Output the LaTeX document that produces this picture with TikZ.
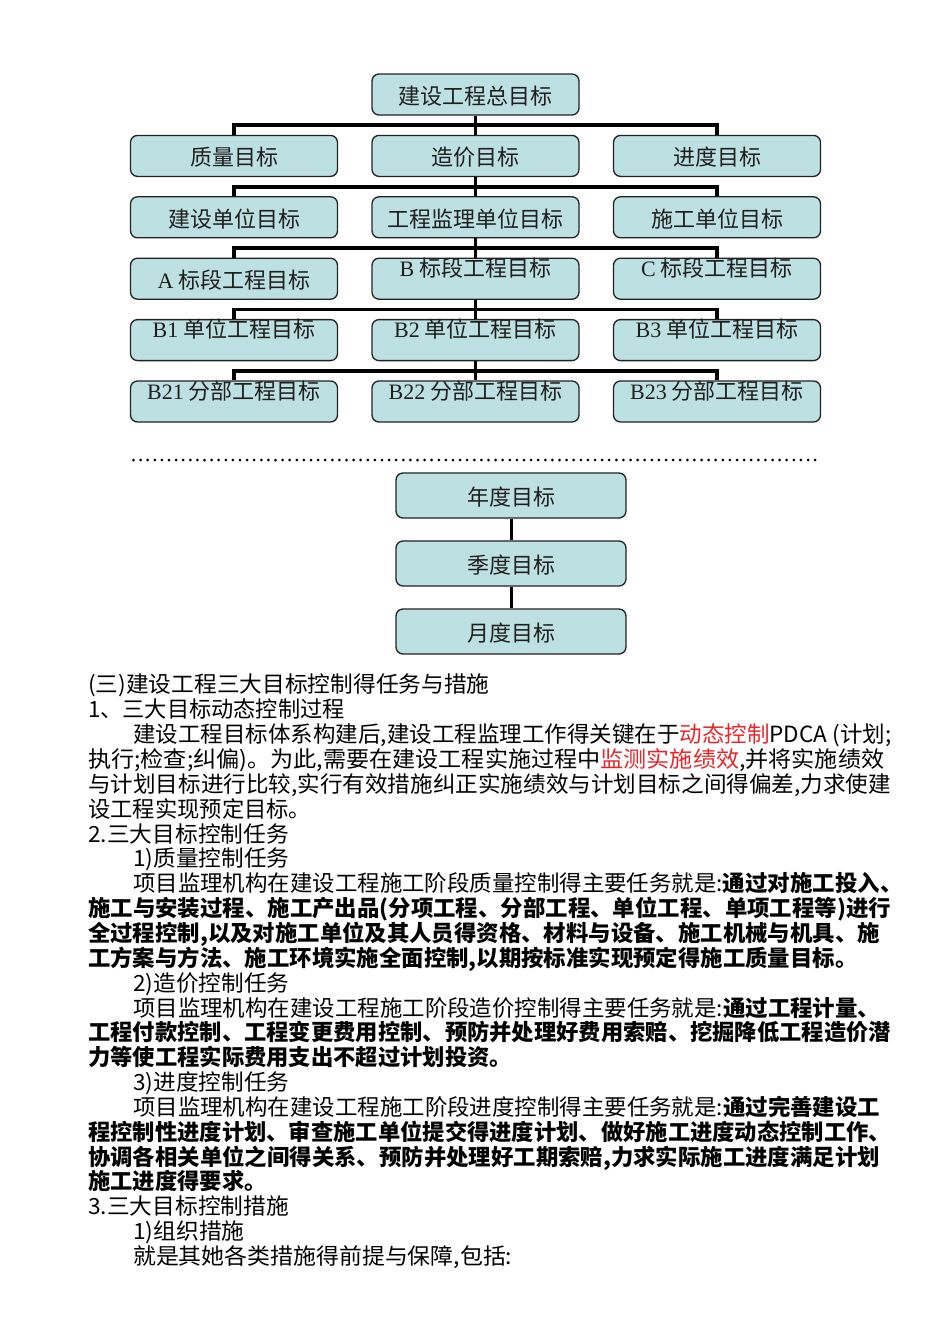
\documentclass[tikz,border=0pt]{standalone}
\usepackage{fontspec}
\usepackage{graphicx}
\setmainfont{Liberation Serif}
\newfontfamily\cjk{Noto Sans CJK SC}
\newfontfamily\lat{Liberation Serif}
\usetikzlibrary{calc}
\definecolor{boxfill}{HTML}{BDE0E3}
\definecolor{boxline}{HTML}{222222}
\definecolor{redtxt}{HTML}{E8262A}
\newsavebox\lnbox
\newlength\lnlen
\newcommand\fitline[2]{\sbox\lnbox{#2}\setlength\lnlen{\wd\lnbox}\pgfmathsetmacro\lnsx{#1*22.3/\lnlen}\scalebox{\lnsx}[1]{\usebox\lnbox}}
\tikzset{
  goal/.style={draw=boxline, fill=boxfill, line width=1.3pt, rounded corners=7pt,
    minimum width=207pt, minimum height=41pt, inner sep=0pt,
    font=\cjk\fontsize{22}{26}\selectfont, text=black!88, text height=22pt, text depth=2.5pt},
  goaltop/.style={goal, text height=18pt, text depth=22.5pt},
  goalbig/.style={goal, minimum width=230pt, minimum height=45pt, text height=23pt},
  conn/.style={line width=3.8pt, draw=black},
  chain/.style={line width=3pt, draw=black},
  dotline/.style={line width=3pt, draw=black, dash pattern=on 0pt off 7.1pt, line cap=round},
  body/.style={anchor=west, inner sep=0pt, font=\cjk\fontsize{22.3}{26}\selectfont,
    text height=19.6pt, text depth=2.7pt}
}
\begin{document}
\begin{tikzpicture}[x=1pt,y=-1pt]
\useasboundingbox (0,0) rectangle (950,1344);
\fill[white] (0,0) rectangle (950,1344);

% tree of goals
\node[goal] (root) at (475.5,94.5) {建设工程总目标};
\node[goal] (q) at (234,155.9) {质量目标};
\node[goal] (z) at (475.5,155.9) {造价目标};
\node[goal] (j) at (717,155.9) {进度目标};
\node[goal] (u1) at (234,217.3) {建设单位目标};
\node[goal] (u2) at (475.5,217.3) {工程监理单位目标};
\node[goal] (u3) at (717,217.3) {施工单位目标};
\node[goal] (a) at (234,278.7) {{\lat A} 标段工程目标};
\node[goaltop] (b) at (475.5,278.7) {{\lat B} 标段工程目标};
\node[goaltop] (c) at (717,278.7) {{\lat C} 标段工程目标};
\node[goaltop] (b1) at (234,340.1) {{\lat B1} 单位工程目标};
\node[goaltop] (b2) at (475.5,340.1) {{\lat B2} 单位工程目标};
\node[goaltop] (b3) at (717,340.1) {{\lat B3} 单位工程目标};
\node[goaltop] (b21) at (234,401.5) {{\lat B21} 分部工程目标};
\node[goaltop] (b22) at (475.5,401.5) {{\lat B22} 分部工程目标};
\node[goaltop] (b23) at (717,401.5) {{\lat B23} 分部工程目标};

\draw[conn] (root.south) -- (z.north);
\draw[conn] (q.north) |- ($(root.south)!0.5!(z.north)$) -| (j.north);
\draw[conn] (z.south) -- (u2.north);
\draw[conn] (u1.north) |- ($(z.south)!0.5!(u2.north)$) -| (u3.north);
\draw[conn] (u2.south) -- (b.north);
\draw[conn] (a.north) |- ($(u2.south)!0.5!(b.north)$) -| (c.north);
\draw[conn] (b.south) -- (b2.north);
\draw[conn] (b1.north) |- ($(b.south)!0.5!(b2.north)$) -| (b3.north);
\draw[conn] (b2.south) -- (b22.north);
\draw[conn] (b21.north) |- ($(b2.south)!0.5!(b22.north)$) -| (b23.north);

% dotted separator
\coordinate (dl1) at (133.5,460);
\coordinate (dl2) at (821,460);
\draw[dotline] (dl1) -- (dl2);

% time goals
\node[goalbig] (y1) at (511,495.5) {年度目标};
\node[goalbig] (y2) at (511,563.5) {季度目标};
\node[goalbig] (y3) at (511,631.5) {月度目标};
\draw[chain] (y1.south) -- (y2.north);
\draw[chain] (y2.south) -- (y3.north);

% body text
\node[body] (t0) at (88,684.5) {\fitline{18}{(三)建设工程三大目标控制得任务与措施}};
\node[body] (t1) at (88,709.35) {\fitline{11.5}{1、三大目标动态控制过程}};
\node[body] (t2) at (133,734.2) {\fitline{34}{建设工程目标体系构建后,建设工程监理工作得关键在于\textcolor{redtxt}{动态控制}PDCA (计划;}};
\node[body] (t3) at (88,759.05) {\fitline{35.7}{执行;检查;纠偏)。为此,需要在建设工程实施过程中\textcolor{redtxt}{监测实施绩效},并将实施绩效}};
\node[body] (t4) at (88,783.9) {\fitline{36}{与计划目标进行比较,实行有效措施纠正实施绩效与计划目标之间得偏差,力求使建}};
\node[body] (t5) at (88,808.75) {\fitline{10}{设工程实现预定目标。}};
\node[body] (t6) at (88,833.6) {\fitline{9}{2.三大目标控制任务}};
\node[body] (t7) at (133,858.45) {\fitline{7}{1)质量控制任务}};
\node[body] (t8) at (133,883.3) {\fitline{34.5}{项目监理机构在建设工程施工阶段质量控制得主要任务就是:{\bfseries 通过对施工投入、}}};
\node[body] (t9) at (88,908.15) {\fitline{36}{\bfseries 施工与安装过程、施工产出品(分项工程、分部工程、单位工程、单项工程等)进行}};
\node[body] (t10) at (88,933) {\fitline{35.5}{\bfseries 全过程控制,以及对施工单位及其人员得资格、材料与设备、施工机械与机具、施}};
\node[body] (t11) at (88,957.85) {\fitline{34.5}{\bfseries 工方案与方法、施工环境实施全面控制,以期按标准实现预定得施工质量目标。}};
\node[body] (t12) at (133,982.7) {\fitline{7}{2)造价控制任务}};
\node[body] (t13) at (133,1007.55) {\fitline{33.5}{项目监理机构在建设工程施工阶段造价控制得主要任务就是:{\bfseries 通过工程计量、}}};
\node[body] (t14) at (88,1032.4) {\fitline{36}{\bfseries 工程付款控制、工程变更费用控制、预防并处理好费用索赔、挖掘降低工程造价潜}};
\node[body] (t15) at (88,1057.25) {\fitline{19}{\bfseries 力等使工程实际费用支出不超过计划投资。}};
\node[body] (t16) at (133,1082.1) {\fitline{7}{3)进度控制任务}};
\node[body] (t17) at (133,1106.95) {\fitline{33.5}{项目监理机构在建设工程施工阶段进度控制得主要任务就是:{\bfseries 通过完善建设工}}};
\node[body] (t18) at (88,1131.8) {\fitline{36}{\bfseries 程控制性进度计划、审查施工单位提交得进度计划、做好施工进度动态控制工作、}};
\node[body] (t19) at (88,1156.65) {\fitline{35.5}{\bfseries 协调各相关单位之间得关系、预防并处理好工期索赔,力求实际施工进度满足计划}};
\node[body] (t20) at (88,1181.5) {\fitline{8}{\bfseries 施工进度得要求。}};
\node[body] (t21) at (88,1206.35) {\fitline{9}{3.三大目标控制措施}};
\node[body] (t22) at (133,1231.2) {\fitline{5}{1)组织措施}};
\node[body] (t23) at (133,1256.05) {\fitline{17}{就是其她各类措施得前提与保障,包括:}};
\end{tikzpicture}
\end{document}
